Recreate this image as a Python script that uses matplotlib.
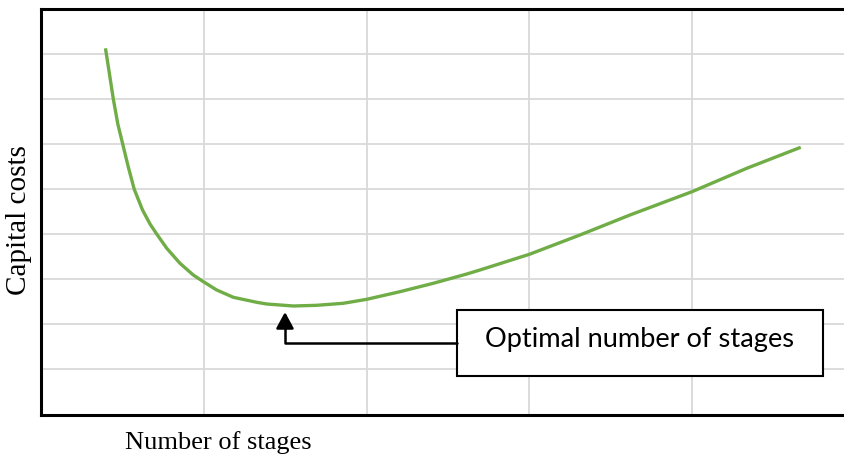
import matplotlib
matplotlib.use("Agg")
from matplotlib import pyplot as plt
from matplotlib.patches import Rectangle

# curve (arbitrary units: x = stages, y = cost)
stages = [0.394, 0.418, 0.442, 0.470, 0.500, 0.534, 0.571, 0.622, 0.668, 0.709,
          0.771, 0.852, 0.934, 0.996, 1.078, 1.180, 1.324, 1.386, 1.549, 1.693,
          1.857, 2.001, 2.205, 2.410, 2.616, 2.697, 3.001, 3.312, 3.620, 4.001,
          4.338, 4.670]
costs = [8.120, 7.565, 7.002, 6.440, 5.998, 5.494, 4.993, 4.534, 4.224, 4.002,
         3.685, 3.353, 3.093, 2.945, 2.761, 2.599, 2.488, 2.450, 2.406, 2.421,
         2.466, 2.554, 2.723, 2.909, 3.115, 3.204, 3.552, 3.980, 4.424, 4.940,
         5.459, 5.925]

optimum = (1.498, 2.273)
label_text = "Optimal number of stages"

fig = plt.figure(figsize=(8.45, 4.59), dpi=100)
ax = fig.add_axes([41.4 / 845, 44.5 / 459, 813 / 845, 405.9 / 459])

ax.set_xlim(0, 5)
ax.set_ylim(0, 9)
ax.set_xticks([1, 2, 3, 4])
ax.set_yticks([1, 2, 3, 4, 5, 6, 7, 8])
ax.grid(True, color="#d9d9d9", linewidth=1.3)
ax.set_axisbelow(True)
ax.tick_params(length=0, labelleft=False, labelbottom=False)
for s in ax.spines.values():
    s.set_linewidth(2.2)
    s.set_color("black")

ax.plot(stages, costs, color="#70ad47", linewidth=2.4,
        solid_capstyle="butt", solid_joinstyle="round")

# callout box
ax.add_patch(Rectangle((2.557, 0.854), 2.25, 1.463, facecolor="white",
                       edgecolor="black", linewidth=1.5, zorder=3))
ax.text(3.681, 1.497, label_text, ha="center", va="baseline",
        fontsize=19.6, family="Lato", zorder=4)

# elbow arrow from box to the minimum
ax.annotate("", xy=optimum, xytext=(2.557, 1.585),
            arrowprops=dict(arrowstyle="-|>,head_length=0.5,head_width=0.27",
                            connectionstyle="angle,angleA=0,angleB=90,rad=0",
                            color="black", lw=1.8, shrinkA=0, shrinkB=0,
                            mutation_scale=20))

fig.text(218 / 845, 1 - 443 / 459, "Number of stages", ha="center", va="center",
         fontsize=19, family="Liberation Serif")
fig.text(19 / 845, 1 - 220 / 459, "Capital costs", ha="center", va="center",
         rotation=90, fontsize=21, family="Liberation Serif")

fig.savefig("out.png", dpi=100)
